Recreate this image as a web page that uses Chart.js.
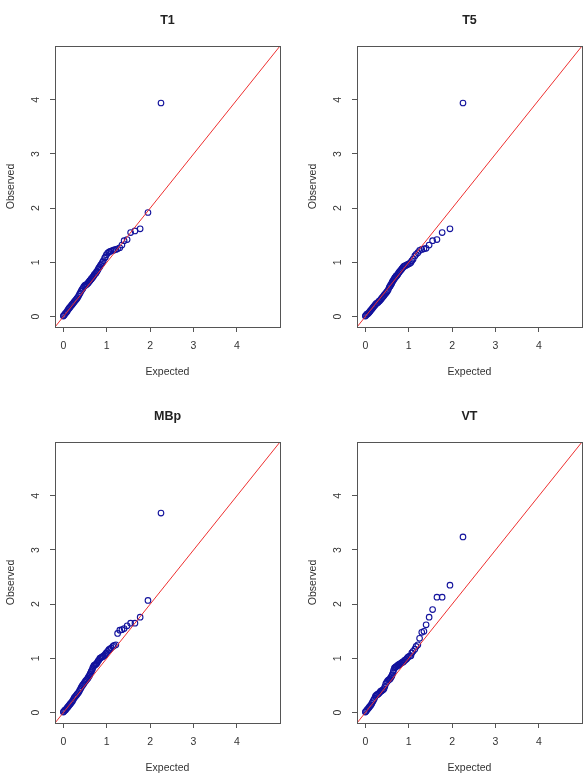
<!DOCTYPE html>
<html>
<head>
<meta charset="utf-8">
<script src="https://cdn.jsdelivr.net/npm/chart.js@4/dist/chart.umd.min.js"></script>
<style>
  html, body { margin: 0; padding: 0; background: #fff; overflow: hidden; }
  body { width: 588px; height: 778px; position: relative; }
  canvas { position: absolute; }
</style>
</head>
<body>
<canvas id="c1" width="294" height="389" style="left:0px;top:0px"></canvas>
<canvas id="c2" width="294" height="389" style="left:302px;top:0px"></canvas>
<canvas id="c3" width="294" height="389" style="left:0px;top:396px"></canvas>
<canvas id="c4" width="294" height="389" style="left:302px;top:396px"></canvas>
<script>
// expected -log10(p), shared by all four panels
const expected = [
  2.25, 1.95, 1.77, 1.65, 1.55, 1.47, 1.40, 1.35, 1.30, 1.25,
  1.21, 1.17, 1.14, 1.10, 1.07, 1.05, 1.02, 0.99, 0.97, 0.95,
  0.92, 0.90, 0.88, 0.86, 0.84, 0.82, 0.80, 0.78, 0.76, 0.75,
  0.73, 0.71, 0.70, 0.68, 0.67, 0.65, 0.64, 0.62, 0.61, 0.60,
  0.58, 0.57, 0.55, 0.53, 0.51, 0.49, 0.47, 0.45, 0.43, 0.41,
  0.39, 0.37, 0.35, 0.33, 0.31, 0.29, 0.27, 0.25, 0.23, 0.21,
  0.19, 0.17, 0.15, 0.13, 0.11, 0.09, 0.07, 0.05, 0.03, 0.01,
  0.00
];

const obsT1 = [
  3.94, 1.92, 1.62, 1.58, 1.55, 1.42, 1.40, 1.32, 1.27, 1.25,
  1.24, 1.23, 1.22, 1.21, 1.20, 1.19, 1.17, 1.14, 1.10, 1.08,
  1.03, 1.00, 0.97, 0.95, 0.92, 0.90, 0.87, 0.84, 0.82, 0.80,
  0.79, 0.77, 0.75, 0.73, 0.72, 0.70, 0.69, 0.67, 0.66, 0.65,
  0.63, 0.62, 0.60, 0.59, 0.58, 0.57, 0.55, 0.52, 0.50, 0.47,
  0.44, 0.41, 0.38, 0.35, 0.33, 0.31, 0.29, 0.27, 0.25, 0.23,
  0.21, 0.19, 0.17, 0.15, 0.13, 0.10, 0.08, 0.06, 0.04, 0.02,
  0.01
];

const obsT5 = [
  3.94, 1.62, 1.55, 1.42, 1.40, 1.32, 1.26, 1.25, 1.24, 1.22,
  1.18, 1.15, 1.12, 1.06, 1.03, 1.00, 0.98, 0.97, 0.96, 0.95,
  0.94, 0.93, 0.92, 0.90, 0.88, 0.86, 0.84, 0.82, 0.80, 0.78,
  0.76, 0.75, 0.73, 0.72, 0.70, 0.68, 0.66, 0.64, 0.62, 0.60,
  0.58, 0.56, 0.54, 0.50, 0.47, 0.45, 0.43, 0.41, 0.39, 0.37,
  0.35, 0.33, 0.31, 0.29, 0.28, 0.26, 0.25, 0.24, 0.22, 0.20,
  0.18, 0.16, 0.14, 0.12, 0.10, 0.08, 0.06, 0.05, 0.04, 0.02,
  0.01
];

const obsMBp = [
  3.68, 2.07, 1.76, 1.65, 1.65, 1.60, 1.55, 1.53, 1.52, 1.46,
  1.25, 1.24, 1.22, 1.19, 1.17, 1.16, 1.13, 1.10, 1.08, 1.06,
  1.04, 1.03, 1.02, 1.01, 1.00, 0.97, 0.95, 0.92, 0.90, 0.89,
  0.88, 0.87, 0.86, 0.83, 0.80, 0.77, 0.75, 0.72, 0.70, 0.68,
  0.66, 0.64, 0.62, 0.60, 0.58, 0.56, 0.53, 0.51, 0.49, 0.46,
  0.43, 0.40, 0.37, 0.35, 0.33, 0.31, 0.29, 0.27, 0.24, 0.21,
  0.19, 0.17, 0.15, 0.13, 0.11, 0.09, 0.07, 0.05, 0.04, 0.02,
  0.01
];

const obsVT = [
  3.24, 2.35, 2.13, 2.13, 1.90, 1.76, 1.62, 1.50, 1.48, 1.37,
  1.25, 1.22, 1.17, 1.13, 1.10, 1.05, 1.04, 1.03, 1.01, 0.99,
  0.97, 0.96, 0.94, 0.93, 0.92, 0.91, 0.90, 0.89, 0.88, 0.87,
  0.86, 0.85, 0.84, 0.83, 0.82, 0.78, 0.74, 0.70, 0.68, 0.66,
  0.64, 0.62, 0.61, 0.60, 0.58, 0.56, 0.53, 0.48, 0.44, 0.42,
  0.41, 0.40, 0.39, 0.37, 0.35, 0.34, 0.33, 0.32, 0.30, 0.26,
  0.23, 0.20, 0.17, 0.14, 0.12, 0.10, 0.08, 0.06, 0.04, 0.02,
  0.01
];

const tickValues = [0, 1, 2, 3, 4];
const axisMin = -0.192;
const axisMax = 4.992;

const FONT = '"Liberation Sans", Arial, Helvetica, sans-serif';
const TEXT = '#333';
const LINE = '#555';

// box, main title and rotated y labels, drawn R-style
const framePlugin = {
    id: 'frame',
    afterDraw(chart, args, opts) {
        const ctx = chart.ctx;
        const a = chart.chartArea;
        ctx.save();
        ctx.strokeStyle = LINE;
        ctx.lineWidth = 1;
        ctx.strokeRect(Math.round(a.left) + 0.5, Math.round(a.top) + 0.5,
            Math.round(a.right - a.left), Math.round(a.bottom - a.top));

        ctx.fillStyle = '#222';
        ctx.font = 'bold 12.5px ' + FONT;
        ctx.textAlign = 'center';
        ctx.textBaseline = 'middle';
        ctx.fillText(opts.title, (a.left + a.right) / 2, a.top - 25);

        const y = chart.scales.y;
        ctx.fillStyle = TEXT;
        ctx.font = '10.5px ' + FONT;
        tickValues.forEach(v => {
            ctx.save();
            ctx.translate(a.left - 19, y.getPixelForValue(v));
            ctx.rotate(-Math.PI / 2);
            ctx.fillText(String(v), 0, 0);
            ctx.restore();
        });
        ctx.restore();
    }
};

function axisOptions(title, isX) {
    return {
        type: 'linear',
        min: axisMin,
        max: axisMax,
        afterBuildTicks: scale => { scale.ticks = tickValues.map(v => ({ value: v })); },
        afterFit: scale => {
            if (isX) scale.height = 62; else scale.width = 55;
        },
        grid: {
            display: true,
            drawOnChartArea: false,
            drawTicks: true,
            tickLength: 5,
            color: LINE,
            lineWidth: 1
        },
        border: { display: false },
        ticks: {
            padding: 8,
            color: isX ? TEXT : 'rgba(0,0,0,0)',
            font: { family: FONT, size: 10.5 },
            maxRotation: 0,
            callback: v => String(v)
        },
        title: {
            display: true,
            text: title,
            color: TEXT,
            font: { family: FONT, size: 10.5 },
            padding: isX ? { top: 0, bottom: 10.5 } : { top: 4.5, bottom: 0 }
        }
    };
}

function makePanel(id, title, observed) {
    const points = expected.map((x, i) => ({ x: x, y: observed[i] }));
    new Chart(document.getElementById(id).getContext('2d'), {
        type: 'scatter',
        data: {
            datasets: [{
                type: 'line',
                data: [{ x: axisMin, y: axisMin }, { x: axisMax, y: axisMax }],
                borderColor: '#ee3030',
                borderWidth: 1,
                pointRadius: 0,
                fill: false
            }, {
                data: points,
                pointStyle: 'circle',
                pointRadius: 2.8,
                pointBorderWidth: 1.1,
                pointBackgroundColor: 'rgba(0,0,0,0)',
                pointBorderColor: '#12129c'
            }]
        },
        options: {
            responsive: false,
            animation: false,
            layout: { padding: { top: 46, right: 14, left: 0, bottom: 0 } },
            scales: {
                x: axisOptions('Expected', true),
                y: axisOptions('Observed', false)
            },
            plugins: {
                legend: { display: false },
                tooltip: { enabled: false },
                frame: { title: title }
            }
        },
        plugins: [framePlugin]
    });
}

makePanel('c1', 'T1', obsT1);
makePanel('c2', 'T5', obsT5);
makePanel('c3', 'MBp', obsMBp);
makePanel('c4', 'VT', obsVT);
</script>
</body>
</html>
